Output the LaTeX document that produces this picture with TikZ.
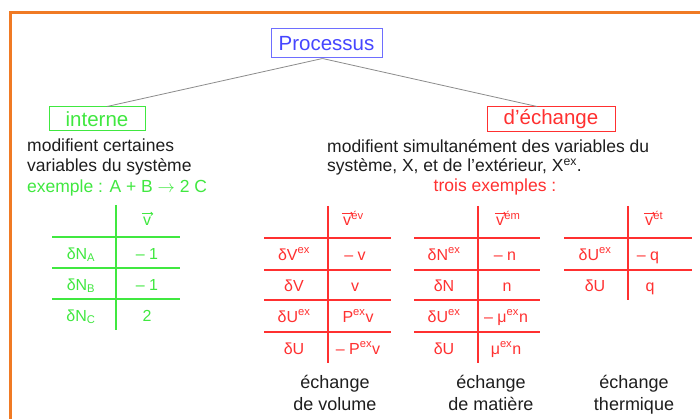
\documentclass[tikz,border=0pt]{standalone}
\usepackage{fontspec}
\setmainfont{Liberation Sans}
\usetikzlibrary{arrows.meta}
\definecolor{orng}{RGB}{240,122,36}
\definecolor{grn}{RGB}{64,232,64}
\definecolor{rd}{RGB}{255,48,48}
\definecolor{blu}{RGB}{70,70,255}
\definecolor{bluline}{RGB}{110,110,255}
\definecolor{txt}{RGB}{30,30,30}
\definecolor{conn}{RGB}{140,140,140}
\tikzset{
  boxlbl/.style={draw, line width=1pt, inner sep=0pt, font=\fontsize{20.5}{24}\selectfont},
  body/.style={anchor=base west, inner sep=0pt, text=txt, font=\fontsize{17.5}{20}\selectfont},
  cell/.style={anchor=base, inner sep=0pt, font=\fontsize{16}{18}\selectfont},
  supcell/.style={anchor=base west, inner sep=0pt, font=\fontsize{16}{18}\selectfont},
  gridline/.style={line width=1.1pt},
  vecarrow/.style={line width=0.8pt, -{To[length=2.6pt,width=4pt]}},
  capt/.style={anchor=base, inner sep=0pt, text=txt, font=\fontsize{18}{20}\selectfont},
  connector/.style={draw=conn, line width=0.8pt},
}
\begin{document}
\begin{tikzpicture}[x=1pt,y=-1pt]
\useasboundingbox (0,0) rectangle (700,419);
\fill[white] (0,0) rectangle (700,419);
% orange frame
\draw[orng, line width=3pt] (10.5,419) -- (10.5,12.5) -- (700,12.5);

% headings
\node[boxlbl, draw=bluline, text=blu, minimum width=111pt, minimum height=29pt] (proc) at (326.5,43.5) {Processus};
\node[boxlbl, draw=grn, text=grn, minimum width=96pt, minimum height=24pt] (interne) at (97,119) {interne};
\node[boxlbl, draw=rd, text=rd, minimum width=128pt, minimum height=25pt] (dech) at (551,119.5) {d'échange};
\draw[connector] ([xshift=-4pt]proc.south) -- ([xshift=10pt]interne.north);
\draw[connector] ([xshift=-4pt]proc.south) -- ([xshift=-14pt]dech.north);

% left text
\node[body] (l1) at (27,152) {modifient certaines};
\node[body] (l2) at (27,172) {variables du système};
\node[body, text=grn] (l3) at (27,192.5) {exemple : A + B $\rightarrow$ 2 C};

% right text
\node[body] (r1) at (327,152.5) {modifient simultanément des variables du};
\node[body] (r2) at (327,172) {système, X, et de l'extérieur, X\textsuperscript{ex}.};
\node[body, anchor=base, text=rd] (r3) at (495,192) {trois exemples :};

% green table
\begin{scope}[grn]
\draw[gridline] (116,205) -- (116,330);
\foreach \yy in {237,268,299} \draw[gridline] (52,\yy) -- (180,\yy);
\node[cell] (gh) at (147,226) {v};
\draw[vecarrow] ([xshift=-1pt,yshift=3.5pt]gh.north west) -- ([xshift=2pt,yshift=3.5pt]gh.north east);
\node[cell] (ga1) at (81,259) {δN\textsubscript{A}};
\node[cell] (ga2) at (147,259) {– 1};
\node[cell] (gb1) at (81,290) {δN\textsubscript{B}};
\node[cell] (gb2) at (147,290) {– 1};
\node[cell] (gc1) at (81,321) {δN\textsubscript{C}};
\node[cell] (gc2) at (147,321) {2};
\end{scope}

% volume table
\begin{scope}[rd]
\draw[gridline] (328,206) -- (328,363);
\foreach \yy in {238,270,300,332} \draw[gridline] (264,\yy) -- (391,\yy);
\node[cell] (vh) at (347,226) {v};
\node[supcell] (vhs) at (vh.base east) {\textsuperscript{év}};
\draw[vecarrow] ([xshift=-1pt,yshift=3.5pt]vh.north west) -- ([xshift=2pt,yshift=3.5pt]vh.north east);
\node[cell] (v11) at (294,260) {δV\textsuperscript{ex}};
\node[cell] (v12) at (355,260) {– v};
\node[cell] (v21) at (294,291) {δV};
\node[cell] (v22) at (355,291) {v};
\node[cell] (v31) at (294,322) {δU\textsuperscript{ex}};
\node[cell] (v32) at (358,322) {P\textsuperscript{ex}v};
\node[cell] (v41) at (294,354) {δU};
\node[cell] (v42) at (358,354) {– P\textsuperscript{ex}v};
\end{scope}
\node[capt] (vc1) at (335,388) {échange};
\node[capt] (vc2) at (335,410) {de volume};

% matter table
\begin{scope}[rd]
\draw[gridline] (478,206) -- (478,363);
\foreach \yy in {238,270,300,332} \draw[gridline] (414,\yy) -- (540,\yy);
\node[cell] (mh) at (500,226) {v};
\node[supcell] (mhs) at (mh.base east) {\textsuperscript{ém}};
\draw[vecarrow] ([xshift=-1pt,yshift=3.5pt]mh.north west) -- ([xshift=2pt,yshift=3.5pt]mh.north east);
\node[cell] (m11) at (444,260) {δN\textsuperscript{ex}};
\node[cell] (m12) at (505,260) {– n};
\node[cell] (m21) at (444,291) {δN};
\node[cell] (m22) at (507,291) {n};
\node[cell] (m31) at (444,322) {δU\textsuperscript{ex}};
\node[cell] (m32) at (506,322) {– μ\textsuperscript{ex}n};
\node[cell] (m41) at (444,354) {δU};
\node[cell] (m42) at (506,354) {μ\textsuperscript{ex}n};
\end{scope}
\node[capt] (mc1) at (491,388) {échange};
\node[capt] (mc2) at (491,410) {de matière};

% thermal table
\begin{scope}[rd]
\draw[gridline] (628,206) -- (628,300);
\foreach \yy in {238,270} \draw[gridline] (564,\yy) -- (692,\yy);
\node[cell] (th) at (649,226) {v};
\node[supcell] (ths) at (th.base east) {\textsuperscript{ét}};
\draw[vecarrow] ([xshift=-1pt,yshift=3.5pt]th.north west) -- ([xshift=2pt,yshift=3.5pt]th.north east);
\node[cell] (t11) at (595,260) {δU\textsuperscript{ex}};
\node[cell] (t12) at (648,260) {– q};
\node[cell] (t21) at (595,291) {δU};
\node[cell] (t22) at (650,291) {q};
\end{scope}
\node[capt] (tc1) at (634,388) {échange};
\node[capt] (tc2) at (634,410) {thermique};
\end{tikzpicture}
\end{document}
